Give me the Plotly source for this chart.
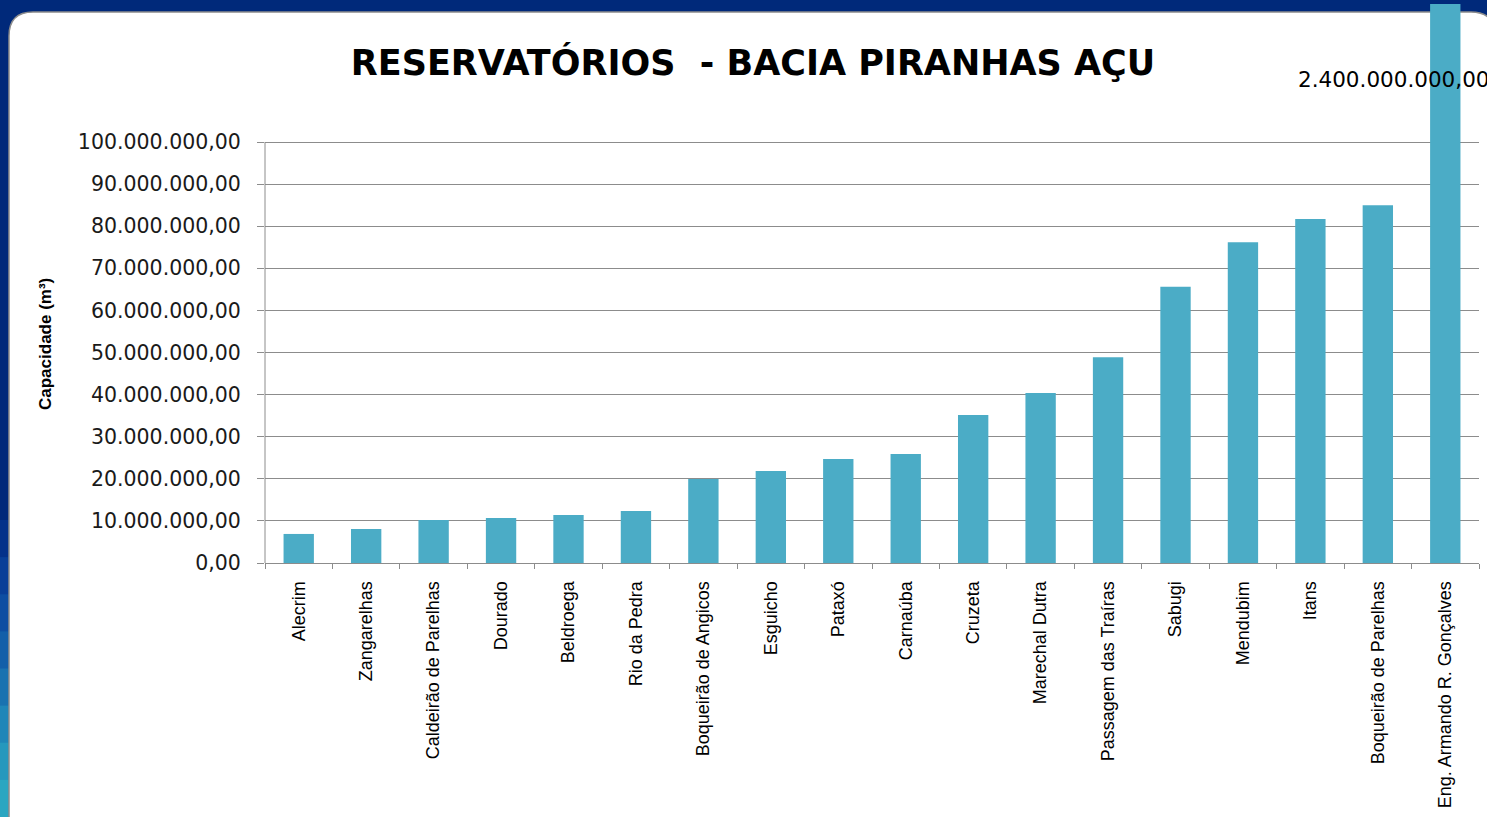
import plotly.graph_objects as go

# ---------------- data ----------------
reservatorios = [
    "Alecrim", "Zangarelhas", "Caldeirão de Parelhas", "Dourado", "Beldroega",
    "Rio da Pedra", "Boqueirão de Angicos", "Esguicho", "Pataxó", "Carnaúba",
    "Cruzeta", "Marechal Dutra", "Passagem das Traíras", "Sabugi", "Mendubim",
    "Itans", "Boqueirão de Parelhas", "Eng. Armando R. Gonçalves",
]
capacidade = [
    6_900_000, 8_100_000, 10_200_000, 10_700_000, 11_400_000,
    12_350_000, 19_950_000, 21_850_000, 24_700_000, 25_900_000,
    35_150_000, 40_400_000, 48_900_000, 65_600_000, 76_200_000,
    81_700_000, 85_000_000, 2_400_000_000,
]
y_ticks = [0, 10_000_000, 20_000_000, 30_000_000, 40_000_000, 50_000_000,
           60_000_000, 70_000_000, 80_000_000, 90_000_000, 100_000_000]

titulo = "RESERVATÓRIOS  - BACIA PIRANHAS AÇU"
y_titulo = "Capacidade (m³)"

# ---------------- layout geometry (pixels) ----------------
W, H = 1487, 817
L, R, B = 265, 1479, 563      # plot area left/right/bottom in px
G = 142                       # pixel row of the top gridline (100.000.000,00)
T = 4                         # plot area top (tall bar is cut here)
y_top = y_ticks[-1] * (B - T) / (B - G)


def px(x):
    return (x - L) / (R - L)


def py(y):
    return (B - y) / (B - T)


def br_fmt(v):
    s = f"{v:,.2f}"
    return s.replace(",", "#").replace(".", ",").replace("#", ".")


fig = go.Figure()
fig.add_trace(go.Bar(
    x=reservatorios, y=capacidade,
    marker=dict(color="#4BACC6", line=dict(width=0)),
    width=0.45, showlegend=False,
))

# background panel (white rounded card on dark-blue slide)
shapes = []
left_cols = ["#05318a", "#0a3f98", "#0e4ea2", "#135fa9", "#1a72b0",
             "#2086b8", "#2698bd", "#2aa6c1"]
band_top = 520
band_h = (H - band_top) / len(left_cols)
for i, c in enumerate(left_cols):
    y0 = band_top + i * band_h
    shapes.append(dict(type="rect", xref="paper", yref="paper", layer="below",
                       x0=px(0), x1=px(10), y0=py(y0 + band_h + 1), y1=py(y0),
                       fillcolor=c, line=dict(width=0)))

x0p, y0p, x1p, y1p, r = 9, 12, 1495, 830, 24
path = (
    f"M {px(x0p)},{py(y0p + r)} "
    f"Q {px(x0p)},{py(y0p)} {px(x0p + r)},{py(y0p)} "
    f"L {px(x1p - r)},{py(y0p)} "
    f"Q {px(x1p)},{py(y0p)} {px(x1p)},{py(y0p + r)} "
    f"L {px(x1p)},{py(y1p)} L {px(x0p)},{py(y1p)} Z"
)
shapes.append(dict(type="path", xref="paper", yref="paper", layer="below",
                   path=path, fillcolor="white",
                   line=dict(color="#8c8c8c", width=1.5)))

# y axis line only over the labelled range (0 .. 100 M)
shapes.append(dict(type="line", xref="paper", yref="y", layer="below",
                   x0=0, x1=0, y0=y_ticks[0], y1=y_ticks[-1],
                   line=dict(color="#8c8c8c", width=1)))

fig.update_layout(
    width=W, height=H,
    margin=dict(l=L, r=W - R, t=T, b=H - B, autoexpand=False),
    paper_bgcolor="#00297a", plot_bgcolor="rgba(0,0,0,0)",
    separators=",.",
    shapes=shapes,
    title=dict(text=f"<b>{titulo}</b>", x=753 / W, xanchor="center",
               y=1 - 63 / H, yanchor="middle",
               font=dict(family="DejaVu Sans", size=35, color="#000000")),
    annotations=[
        dict(text=br_fmt(capacidade[-1]), xref="paper", yref="paper",
             x=px(1296), y=py(79), xanchor="left", yanchor="middle",
             showarrow=False,
             font=dict(family="DejaVu Sans", size=21.5, color="#000000")),
        dict(text=f"<b>{y_titulo}</b>", xref="paper", yref="paper",
             x=px(45), y=py(344), xanchor="center", yanchor="middle",
             textangle=-90, showarrow=False,
             font=dict(family="Liberation Sans Narrow, Liberation Sans, Arial",
                       size=17, color="#000000")),
    ],
)

fig.update_yaxes(
    range=[0, y_top], tickvals=y_ticks, tickformat=",.2f",
    showgrid=True, gridcolor="#8c8c8c", gridwidth=1,
    showline=False,
    ticks="outside", ticklen=7, tickcolor="#8c8c8c", ticklabelstandoff=12,
    tickfont=dict(family="DejaVu Sans", size=20.5, color="#1a1a1a"),
    zeroline=False, fixedrange=True,
)
fig.update_xaxes(
    showline=True, linecolor="#8c8c8c", linewidth=1,
    ticks="outside", ticklen=5, tickcolor="#8c8c8c", tickson="boundaries",
    tickangle=-90, ticklabelstandoff=10,
    tickfont=dict(family="Liberation Sans", size=18, color="#000000"),
    fixedrange=True,
)

fig.write_html("out.html",
               config={"displayModeBar": False},
               post_script="document.body.style.margin='0px';"
                           "document.body.style.overflow='hidden';")
